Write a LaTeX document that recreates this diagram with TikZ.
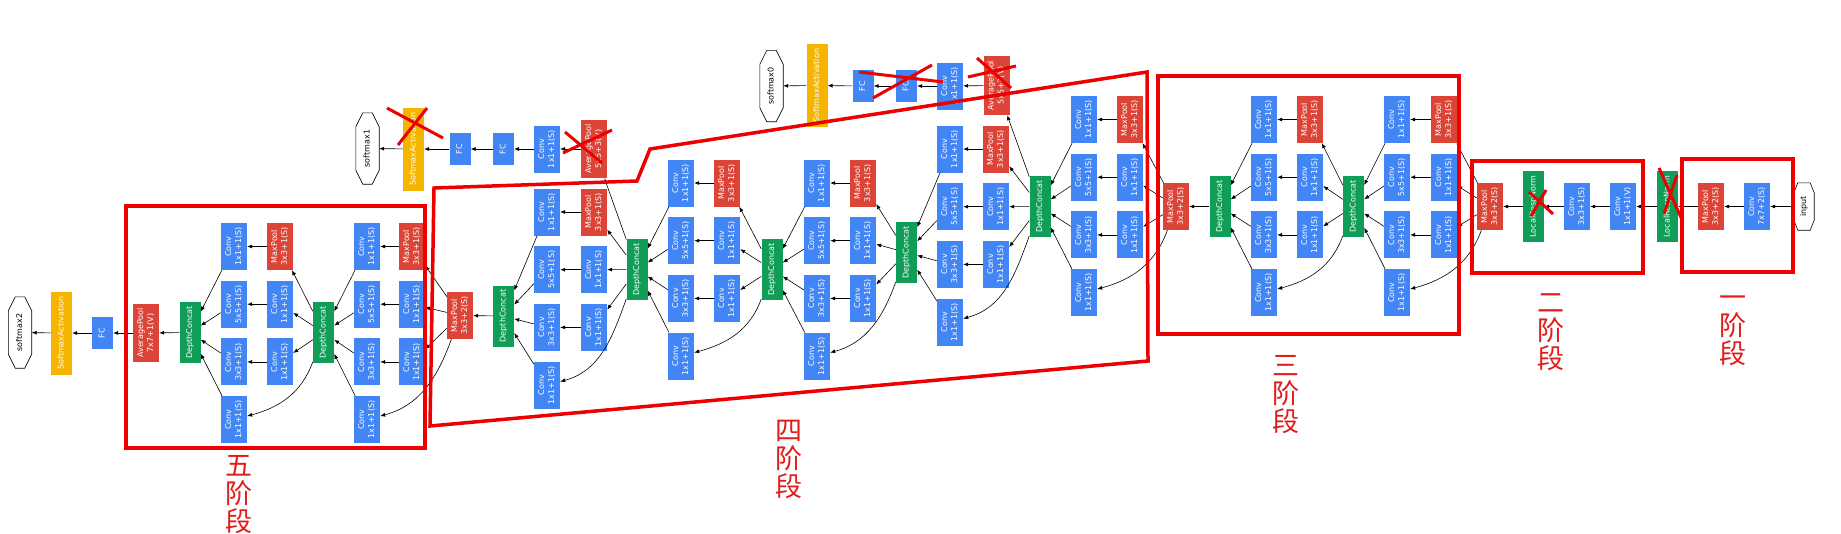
\documentclass[tikz,border=0pt]{standalone}
\usepackage{fontspec}
\setmainfont{DejaVu Sans}
\newfontfamily\cjk{Noto Sans CJK SC}
\usetikzlibrary{arrows.meta,calc}
\definecolor{gblue}{RGB}{66,133,244}
\definecolor{gred}{RGB}{219,68,55}
\definecolor{ggreen}{RGB}{15,157,88}
\definecolor{gyellow}{RGB}{244,180,0}
\definecolor{stagered}{RGB}{236,0,0}
\definecolor{lblred}{RGB}{224,28,28}
\newcommand{\rl}[1]{\rotatebox{90}{\begin{tabular}{@{}c@{}}#1\end{tabular}}}
\newcommand{\octa}[3]{\draw[line width=0.6pt] ($(#1.north west)+(#2,0)$) -- ($(#1.north east)+(-#2,0)$) -- ($(#1.north east)+(0,#3)$) -- ($(#1.south east)+(0,-#3)$) -- ($(#1.south east)+(-#2,0)$) -- ($(#1.south west)+(#2,0)$) -- ($(#1.south west)+(0,-#3)$) -- ($(#1.north west)+(0,#3)$) -- cycle;}
\begin{document}
\begin{tikzpicture}[x=1pt,y=-1pt,
  blk/.style={inner sep=0pt,text=white,font=\fontsize{8}{10}\selectfont},
  conv/.style={blk,fill=gblue,minimum width=26pt,minimum height=47pt},
  pool/.style={blk,fill=gred,minimum width=26pt,minimum height=47pt},
  concat/.style={blk,fill=ggreen,minimum width=21pt,minimum height=61pt},
  lrn/.style={blk,fill=ggreen,minimum width=21pt,minimum height=71pt},
  fc/.style={blk,fill=gblue,minimum width=21pt,minimum height=32pt},
  soft/.style={blk,fill=gyellow,minimum width=21pt,minimum height=83pt},
  outnode/.style={inner sep=0pt,font=\fontsize{8}{10}\selectfont,minimum width=23pt,minimum height=71pt},
  arr/.style={-{Latex[length=5pt,width=4pt]},line width=0.6pt},
  stagebox/.style={draw=stagered,line width=3.5pt},
  xmark/.style={draw=stagered,line width=3pt},
  stagelbl/.style={text=lblred,font=\cjk\fontsize{27}{28}\selectfont,align=center,inner sep=0pt}]
\useasboundingbox (0,0) rectangle (1841,533);
% stem
\node[outnode,minimum width=20pt,minimum height=47pt] (input) at (1804,206.5) {\rl{input}};
\node[conv] (conv1) at (1757,206.5) {\rl{Conv\\7x7+2(S)}};
\node[pool] (pool1) at (1711,206.5) {\rl{MaxPool\\3x3+2(S)}};
\node[lrn] (lrn1) at (1667.5,206.5) {\rl{LocalRespNorm}};
\node[conv] (conv2r) at (1623,206.5) {\rl{Conv\\1x1+1(V)}};
\node[conv] (conv2) at (1577,206.5) {\rl{Conv\\3x3+1(S)}};
\node[lrn] (lrn2) at (1533.5,206.5) {\rl{LocalRespNorm}};
\node[pool] (pool2) at (1490,206.5) {\rl{MaxPool\\3x3+2(S)}};
\node[pool] (pool3) at (1176,206.5) {\rl{MaxPool\\3x3+2(S)}};
\node[pool] (pool4) at (460,315.5) {\rl{MaxPool\\3x3+2(S)}};
% auxiliary heads
\node[pool,minimum height=59pt] (avg0) at (996.5,85.5) {\rl{AveragePool\\5x5+3(V)}};
\node[conv] (conv0) at (950,86) {\rl{Conv\\1x1+1(S)}};
\node[fc] (fc0a) at (906.5,86) {\rl{FC}};
\node[fc] (fc0b) at (863,86) {\rl{FC}};
\node[soft] (sm0) at (817,85.5) {\rl{SoftmaxActivation}};
\node[outnode] (out0) at (771.5,86) {\rl{softmax0}};
\node[pool,minimum height=58pt] (avg1) at (594,149) {\rl{AveragePool\\5x5+3(V)}};
\node[conv] (conv1x) at (547,149) {\rl{Conv\\1x1+1(S)}};
\node[fc] (fc1a) at (503.5,149) {\rl{FC}};
\node[fc] (fc1b) at (460,149) {\rl{FC}};
\node[soft] (sm1) at (413.5,149) {\rl{SoftmaxActivation}};
\node[outnode] (out1) at (367.5,148.5) {\rl{softmax1}};
% classifier
\node[pool,minimum height=58pt] (avg2) at (146,333) {\rl{AveragePool\\7x7+1(V)}};
\node[fc] (fc2) at (102.5,333) {\rl{FC}};
\node[soft] (sm2) at (61.5,333) {\rl{SoftmaxActivation}};
\node[outnode] (out2) at (20,332.5) {\rl{softmax2}};
% inception modules
\foreach \m/\xr/\xl/\yt/\xd/\yd/\src in {i3a/1444/1397/119.5/1353.5/206.5/pool2,i3b/1310/1264/119.5/1220/206.5/i3a-dc,
  i4a/1130/1084/119.5/1040/206.5/pool3,i4b/996/950/149/906.5/252.5/i4a-dc,i4c/863/817/183/772/269.5/i4b-dc,
  i4d/727/681/183/637/269.5/i4c-dc,i4e/594/547/212/503.5/316/i4d-dc,
  i5a/412/367/246.5/323.5/332.5/pool4,i5b/280/234/246.5/190/332.5/i5a-dc}{
\node[pool] (\m-pool) at (\xr,\yt) {\rl{MaxPool\\3x3+1(S)}};
\node[conv] (\m-r2) at (\xr,\yt+57.7) {\rl{Conv\\1x1+1(S)}};
\node[conv] (\m-r3) at (\xr,\yt+115.4) {\rl{Conv\\1x1+1(S)}};
\node[conv] (\m-b1) at (\xl,\yt) {\rl{Conv\\1x1+1(S)}};
\node[conv] (\m-b2) at (\xl,\yt+57.7) {\rl{Conv\\5x5+1(S)}};
\node[conv] (\m-b3) at (\xl,\yt+115.4) {\rl{Conv\\3x3+1(S)}};
\node[conv] (\m-b4) at (\xl,\yt+173.1) {\rl{Conv\\1x1+1(S)}};
\node[concat] (\m-dc) at (\xd,\yd) {\rl{DepthConcat}};
\draw[arr] (\src) -- (\m-pool);
\draw[arr] (\src) -- (\m-r2);
\draw[arr] (\src) -- (\m-r3);
\draw[arr] (\src) to[out=-110,in=15] (\m-b4);
\draw[arr] (\m-pool) -- (\m-b1);
\draw[arr] (\m-r2) -- (\m-b2);
\draw[arr] (\m-r3) -- (\m-b3);
\foreach \k in {1,...,4} \draw[arr] (\m-b\k) -- (\m-dc);
}
\foreach \a/\b in {input/conv1,conv1/pool1,pool1/lrn1,lrn1/conv2r,conv2r/conv2,conv2/lrn2,lrn2/pool2,
  i3b-dc/pool3,i4e-dc/pool4,i4a-dc/avg0,avg0/conv0,conv0/fc0a,fc0a/fc0b,fc0b/sm0,sm0/out0,
  i4d-dc/avg1,avg1/conv1x,conv1x/fc1a,fc1a/fc1b,fc1b/sm1,sm1/out1,i5b-dc/avg2,avg2/fc2,fc2/sm2,sm2/out2}
  \draw[arr] (\a) -- (\b);
\octa{input}{4}{10}
\octa{out0}{7}{14}
\octa{out1}{7}{14}
\octa{out2}{7}{14}
% stages
\draw[stagebox] (1682,159) rectangle (1793,272);
\draw[stagebox] (1472,161) rectangle (1643,273);
\draw[stagebox] (1158,76) rectangle (1459,334);
\draw[stagebox] (430,426) -- (434,188) -- (637,181) -- (650,149) -- (1147,72) -- (1148,361) -- cycle;
\draw[stagebox] (126,206) rectangle (425,448);
\node[stagelbl] (lbl1) at (1732.5,331) {一\\阶\\段};
\node[stagelbl] (lbl2) at (1550.5,332) {二\\阶\\段};
\node[stagelbl] (lbl3) at (1285.5,395) {三\\阶\\段};
\node[stagelbl] (lbl4) at (788.5,459.5) {四\\阶\\段};
\node[stagelbl] (lbl5) at (238.5,495) {五\\阶\\段};
% removed layers
\draw[xmark] (387,108) -- (443,138) (427,108) -- (398,145);
\draw[xmark] (565,132) -- (602,163) (612,130) -- (563,153);
\draw[xmark] (859,72) -- (943,82) (932,65) -- (873,98);
\draw[xmark] (968,77) -- (1016,66) (977,58) -- (1011,88);
\draw[xmark] (1529,192) -- (1553,214) (1546,190) -- (1531,216);
\draw[xmark] (1659,168) -- (1683,222) (1677,175) -- (1664,214);
\end{tikzpicture}
\end{document}
